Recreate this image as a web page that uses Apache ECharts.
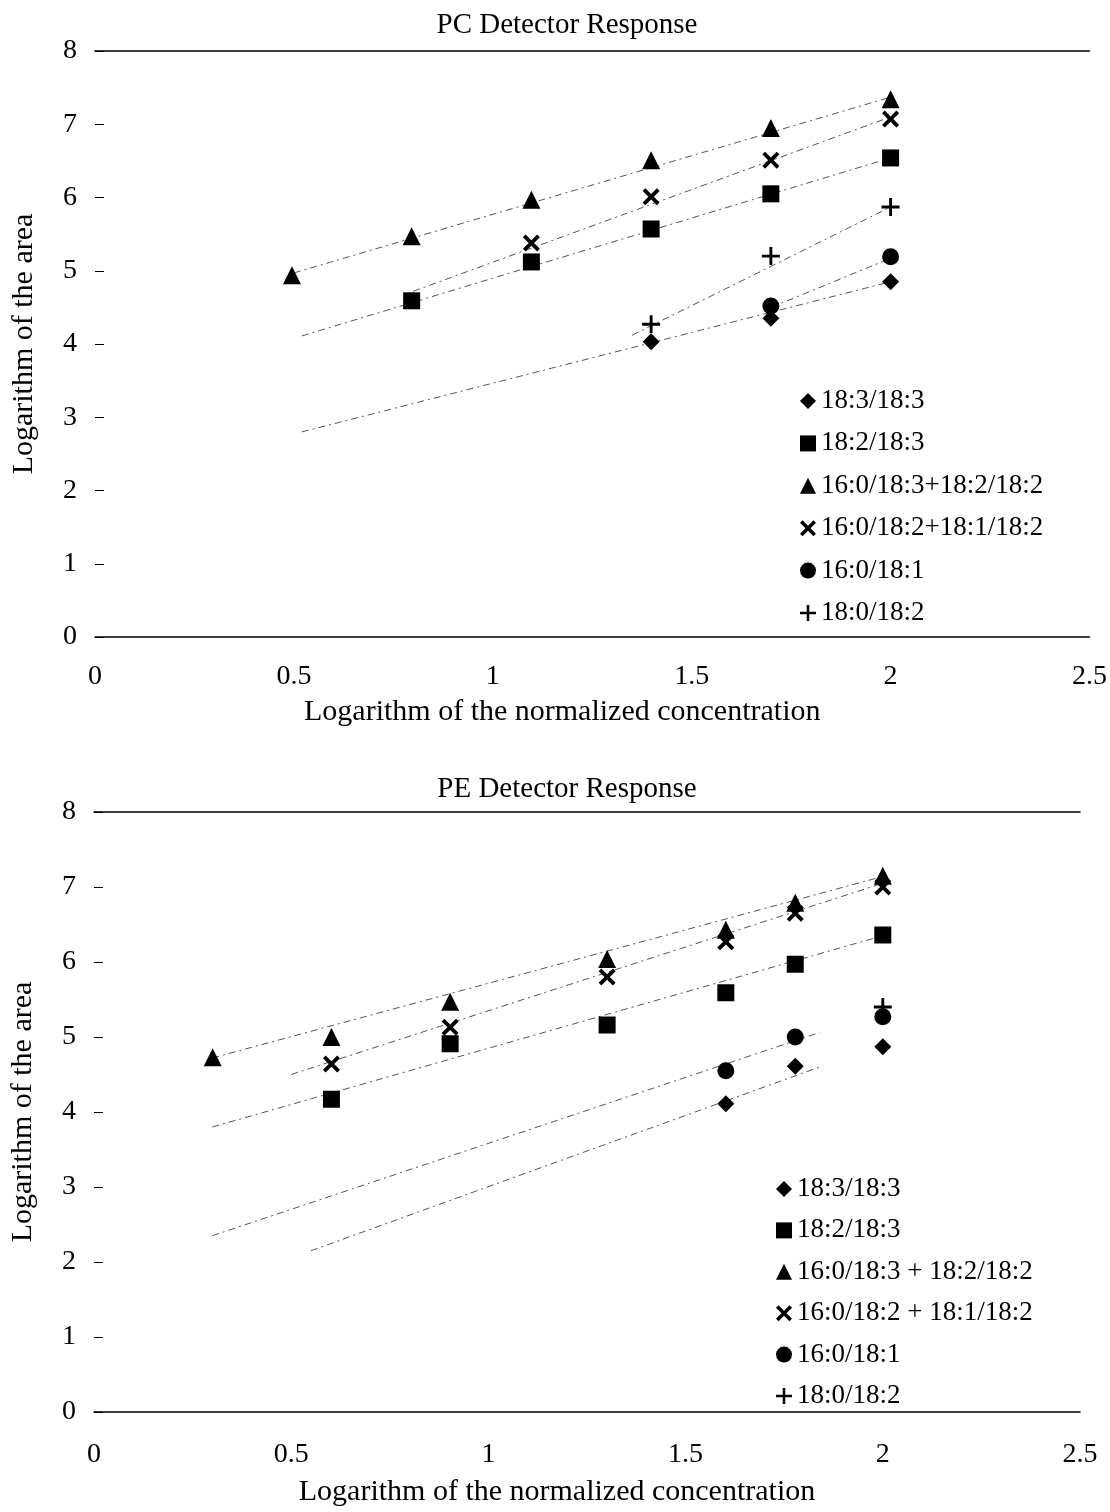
<!DOCTYPE html>
<html>
<head>
<meta charset="utf-8">
<script src="https://cdn.jsdelivr.net/npm/echarts@6/dist/echarts.min.js"></script>
<style>
  html, body { margin: 0; padding: 0; background: #fff; }
  #container { width: 1110px; height: 1512px; }
</style>
</head>
<body>
<div id="container"></div>
<script>
// --- data ---
var seriesNames = ['18:3/18:3', '18:2/18:3', '16:0/18:3+18:2/18:2', '16:0/18:2+18:1/18:2', '16:0/18:1', '18:0/18:2'];
var seriesNamesPE = ['18:3/18:3', '18:2/18:3', '16:0/18:3 + 18:2/18:2', '16:0/18:2 + 18:1/18:2', '16:0/18:1', '18:0/18:2'];

// PC detector (top)
var pcConc = [0.495, 0.796, 1.097, 1.398, 1.699, 2.0];
var pcDiamond = [null, null, null, 4.03, 4.35, 4.85];
var pcSquare = [null, 4.59, 5.12, 5.57, 6.05, 6.54];
var pcTriangle = [4.94, 5.47, 5.97, 6.51, 6.95, 7.34];
var pcCross = [null, null, 5.38, 6.01, 6.51, 7.07];
var pcCircle = [null, null, null, null, 4.52, 5.19];
var pcPlus = [null, null, null, 4.27, 5.20, 5.87];
// trend line end points
var pcFits = [
  [[0.52, 2.80], [2.0, 4.85]],
  [[0.52, 4.11], [2.0, 6.54]],
  [[0.5, 4.97], [2.0, 7.37]],
  [[0.8, 4.72], [2.0, 7.10]],
  [[1.7, 4.50], [2.0, 5.17]],
  [[1.35, 4.12], [2.0, 5.87]]
];

// PE detector (bottom)
var peConc = [0.301, 0.602, 0.903, 1.301, 1.602, 1.778, 2.0];
var peDiamond = [null, null, null, null, 4.11, 4.61, 4.87];
var peSquare = [null, 4.17, 4.91, 5.16, 5.59, 5.97, 6.36];
var peTriangle = [4.73, 5.00, 5.47, 6.04, 6.43, 6.79, 7.15];
var peCross = [null, 4.64, 5.13, 5.80, 6.27, 6.65, 7.00];
var peCircle = [null, null, null, null, 4.55, 5.00, 5.27];
var pePlus = [null, null, null, null, null, null, 5.40];
var peFits = [
  [[0.55, 2.15], [1.84, 4.60]],
  [[0.3, 3.80], [2.0, 6.35]],
  [[0.3, 4.72], [2.0, 7.14]],
  [[0.5, 4.50], [2.0, 7.05]],
  [[0.3, 2.35], [1.84, 5.06]]
];

var CROSS = 'path://M0,1.6 L1.6,0 L5,3.4 L8.4,0 L10,1.6 L6.6,5 L10,8.4 L8.4,10 L5,6.6 L1.6,10 L0,8.4 L3.4,5 Z';
var PLUS = 'path://M4.2,0 L5.8,0 L5.8,4.2 L10,4.2 L10,5.8 L5.8,5.8 L5.8,10 L4.2,10 L4.2,5.8 L0,5.8 L0,4.2 L4.2,4.2 Z';
var symbols = ['diamond', 'rect', 'triangle', CROSS, 'circle', PLUS];
var sizes = [17, 17, 18, 17, 17, 18];
var FONT = '"Liberation Serif", "DejaVu Serif", serif';

var dom = document.getElementById('container');
var myChart = echarts.init(dom);

function pairs(xs, ys) {
  var out = [];
  for (var i = 0; i < xs.length; i++) {
    if (ys[i] != null) out.push([xs[i], ys[i]]);
  }
  return out;
}

function makeAxes(idx, nameGap, labelMargin) {
  var x = {
    gridIndex: idx, type: 'value', min: 0, max: 2.5, interval: 0.5,
    name: 'Logarithm of the normalized concentration', nameLocation: 'middle', nameGap: nameGap,
    nameTextStyle: { fontFamily: FONT, fontSize: 30, color: '#000', padding: [0, 60, 0, 0] },
    axisLine: { show: true, lineStyle: { color: '#000', width: 1.5 } },
    axisTick: { show: false },
    splitLine: { show: false },
    axisLabel: { fontFamily: FONT, fontSize: 28, color: '#000', margin: labelMargin }
  };
  var xTop = {
    gridIndex: idx, type: 'value', min: 0, max: 2.5, position: 'top',
    axisLine: { show: true, lineStyle: { color: '#000', width: 1.5 } },
    axisTick: { show: false }, axisLabel: { show: false }, splitLine: { show: false }
  };
  var y = {
    gridIndex: idx, type: 'value', min: 0, max: 8, interval: 1,
    name: 'Logarithm of the area', nameLocation: 'middle', nameGap: 56,
    nameTextStyle: { fontFamily: FONT, fontSize: 30, color: '#000' },
    axisLine: { show: false },
    axisTick: { show: true, inside: true, length: 9, lineStyle: { color: '#000' } },
    splitLine: { show: false },
    axisLabel: { fontFamily: FONT, fontSize: 28, color: '#000', margin: 18 }
  };
  return { x: [x, xTop], y: y };
}

var a0 = makeAxes(0, 60, 26);
var a1 = makeAxes(1, 65, 29);

var series = [];
function addChart(idx, conc, cols, fits, names) {
  var xi = idx * 2;
  fits.forEach(function (f, k) {
    series.push({
      name: 'fit' + idx + '_' + k, type: 'line', xAxisIndex: xi, yAxisIndex: idx,
      data: f, showSymbol: false, silent: true, z: 1,
      lineStyle: { color: '#555', width: 1, type: [7, 4, 2, 4] }
    });
  });
  cols.forEach(function (ys, k) {
    series.push({
      name: names[k], type: 'scatter', xAxisIndex: xi, yAxisIndex: idx,
      data: pairs(conc, ys), symbol: symbols[k], symbolSize: sizes[k], z: 3,
      itemStyle: { color: '#000', opacity: 1 }
    });
  });
}
addChart(0, pcConc, [pcDiamond, pcSquare, pcTriangle, pcCross, pcCircle, pcPlus], pcFits, seriesNames);
addChart(1, peConc, [peDiamond, peSquare, peTriangle, peCross, peCircle, pePlus], peFits, seriesNamesPE);

option = {
  backgroundColor: '#fff',
  animation: false,
  title: [
    { text: 'PC Detector Response', left: 562, top: 6, textAlign: 'center',
      textStyle: { fontFamily: FONT, fontSize: 29, fontWeight: 'normal', color: '#000' } },
    { text: 'PE Detector Response', left: 562, top: 770, textAlign: 'center',
      textStyle: { fontFamily: FONT, fontSize: 29, fontWeight: 'normal', color: '#000' } }
  ],
  grid: [
    { left: 95, right: 20, top: 51, height: 586 },
    { left: 93, right: 30, top: 812, height: 600 }
  ],
  xAxis: a0.x.concat(a1.x),
  yAxis: [a0.y, a1.y],
  legend: [
    { data: seriesNames, orient: 'vertical', left: 795, top: 382,
      itemWidth: 16, itemHeight: 16, itemGap: 14.4,
      textStyle: { fontFamily: FONT, fontSize: 27, color: '#000', lineHeight: 28 } },
    { data: seriesNamesPE, orient: 'vertical', left: 771, top: 1170,
      itemWidth: 16, itemHeight: 16, itemGap: 13.4,
      textStyle: { fontFamily: FONT, fontSize: 27, color: '#000', lineHeight: 28 } }
  ],
  series: series
};

if (option && typeof option === 'object') {
  myChart.setOption(option, true);
}
</script>
</body>
</html>
